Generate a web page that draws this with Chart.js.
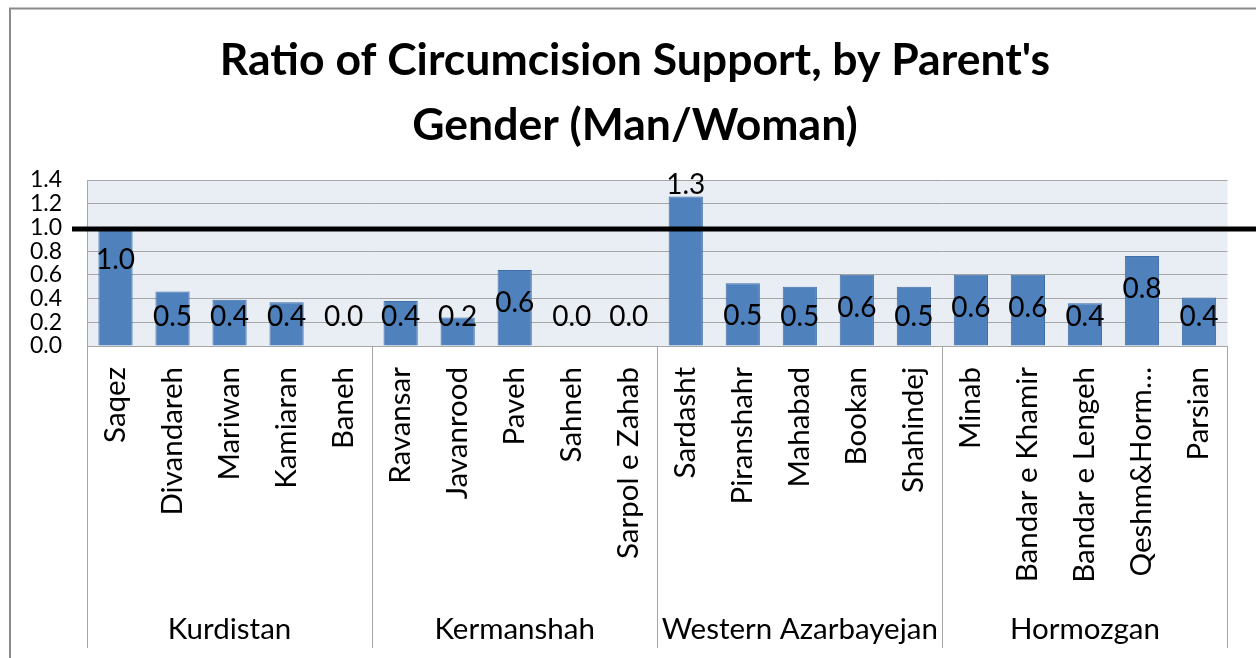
<!DOCTYPE html>
<html><head><meta charset="utf-8">
<script src="https://cdn.jsdelivr.net/npm/chart.js@4"></script>
<style>html,body{margin:0;padding:0;background:#fff;}#wrap{width:1256px;height:658px;position:relative;}</style>
</head><body><div id="wrap"><canvas id="c" width="1256" height="658"></canvas></div>
<script>
const cities = ['Saqez','Divandareh','Mariwan','Kamiaran','Baneh',
  'Ravansar','Javanrood','Paveh','Sahneh','Sarpol e Zahab',
  'Sardasht','Piranshahr','Mahabad','Bookan','Shahindej',
  'Minab','Bandar e Khamir','Bandar e Lengeh','Qeshm&Horm\u2026','Parsian'];
const provinces = ['Kurdistan','Kermanshah','Western Azarbayejan','Hormozgan'];
const citiesPerProvince = [5,5,5,5];
const ratios = [1.00,0.46,0.39,0.37,0.00,
  0.38,0.24,0.64,0.00,0.00,
  1.26,0.53,0.50,0.60,0.50,
  0.60,0.60,0.36,0.76,0.41];
const yTicks = [0,0.2,0.4,0.6,0.8,1.0,1.2,1.4];
const titleLines = ["Ratio of Circumcision Support, by Parent's","Gender (Man/Woman)"];
const referenceValue = 1.0;

const FONT = 'Lato';

const decor = {
  id:'decor',
  beforeDraw(chart){
    const {ctx, chartArea:a} = chart;
    ctx.save();
    ctx.fillStyle = '#e9edf4';
    ctx.fillRect(a.left, a.top, a.right-a.left, a.bottom-a.top);
    ctx.restore();
  },
  afterDraw(chart){
    const {ctx, chartArea:a, scales:{x,y}} = chart;
    ctx.save();
    // outer frame
    ctx.strokeStyle = '#8a8a8a'; ctx.lineWidth = 2;
    ctx.beginPath(); ctx.moveTo(10, 658); ctx.lineTo(10, 8.5); ctx.lineTo(1256, 8.5); ctx.stroke();
    // title
    ctx.fillStyle = '#000'; ctx.textAlign = 'center'; ctx.textBaseline = 'alphabetic';
    ctx.font = 'bold 44.5px ' + FONT;
    ctx.fillText(titleLines[0], 635, 75);
    ctx.fillText(titleLines[1], 635, 140);
    // category dividers below axis
    ctx.strokeStyle = '#a6a6a6'; ctx.lineWidth = 1;
    const bounds = [x.left];
    let idx = 0;
    citiesPerProvince.forEach(n => { idx += n; bounds.push(idx >= cities.length ? x.right : (x.getPixelForValue(idx-1)+x.getPixelForValue(idx))/2); });
    bounds.forEach(b => { const px = Math.round(b)+0.5; ctx.beginPath(); ctx.moveTo(px, a.bottom); ctx.lineTo(px, 648); ctx.stroke(); });
    // province labels
    ctx.font = '29.5px ' + FONT; ctx.textBaseline = 'middle'; ctx.fillStyle = '#000';
    provinces.forEach((p,i) => ctx.fillText(p, (bounds[i]+bounds[i+1])/2, 629));
    // data labels
    ctx.font = '28px ' + FONT;
    const meta = chart.getDatasetMeta(0);
    const zero = y.getPixelForValue(0);
    meta.data.forEach((bar,i) => {
      const v = ratios[i];
      const top = y.getPixelForValue(v);
      let cy;
      if (v > 1.2) cy = top - 12; else cy = Math.min(top + 33, zero - 29);
      ctx.fillText(v.toFixed(1), bar.x, cy);
    });
    // reference line
    const ry = y.getPixelForValue(referenceValue) + 1.5;
    ctx.strokeStyle = '#000'; ctx.lineWidth = 5;
    ctx.beginPath(); ctx.moveTo(72, ry); ctx.lineTo(1256, ry); ctx.stroke();
    ctx.restore();
  }
};

new Chart(document.getElementById('c'), {
  type:'bar',
  data:{ labels: cities, datasets:[{ data: ratios, backgroundColor:'#4f81bd', borderColor:'#3f6fa6', borderWidth:1, categoryPercentage:1, barPercentage:0.6 }]},
  options:{
    responsive:false, animation:false, devicePixelRatio:1,
    layout:{ padding:{ top:180, right:25, left:0, bottom:0 } },
    plugins:{ legend:{display:false}, title:{display:false}, tooltip:{enabled:false} },
    scales:{
      x:{
        grid:{display:false, drawTicks:false}, border:{display:false},
        ticks:{ autoSkip:false, minRotation:90, maxRotation:90, padding:21, color:'#000', font:{family:FONT, size:29.5} },
        afterFit(s){ s.height = 312; }
      },
      y:{
        min:0, max:1.4,
        afterBuildTicks(s){ s.ticks = yTicks.map(v => ({value:v})); },
        grid:{ color:'#a6a6a6', drawTicks:false, lineWidth:1 },
        border:{ display:true, color:'#a6a6a6' },
        ticks:{ autoSkip:false, padding:25, color:'#000', font:{family:FONT, size:23}, callback:v => Number(v).toFixed(1) },
        afterFit(s){ s.width = 87; }
      }
    }
  },
  plugins:[decor]
});
</script></body></html>
